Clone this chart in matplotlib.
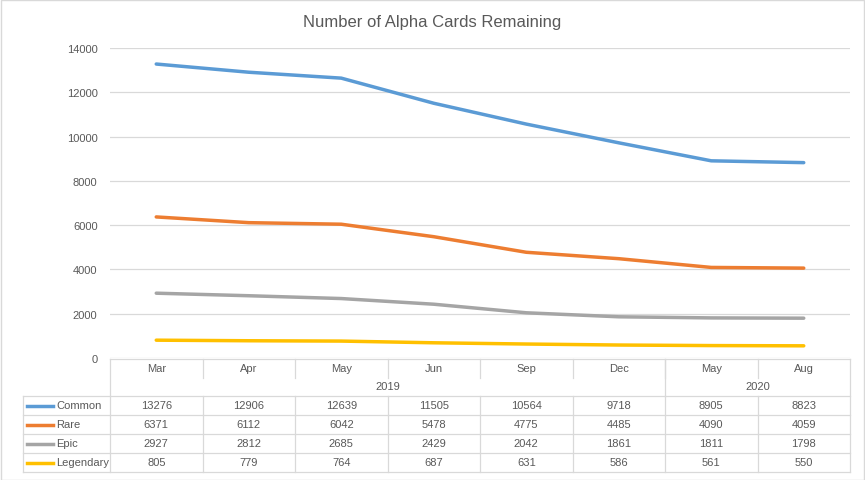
import matplotlib.pyplot as plt
from matplotlib.lines import Line2D
from matplotlib.transforms import blended_transform_factory

months = ["Mar", "Apr", "May", "Jun", "Sep", "Dec", "May", "Aug"]
years = ["2019", "2020"]
year_spans = [(0, 5), (6, 7)]
series_names = ["Common", "Rare", "Epic", "Legendary"]
common = [13276, 12906, 12639, 11505, 10564, 9718, 8905, 8823]
rare = [6371, 6112, 6042, 5478, 4775, 4485, 4090, 4059]
epic = [2927, 2812, 2685, 2429, 2042, 1861, 1811, 1798]
legendary = [805, 779, 764, 687, 631, 586, 561, 550]
colors = ["#5B9BD5", "#ED7D31", "#A5A5A5", "#FFC000"]

W, H = 865, 481
txt = "#595959"
grid = "#D9D9D9"
plt.rcParams['font.family'] = ['Liberation Sans', 'DejaVu Sans']

fig = plt.figure(figsize=(W / 100, H / 100), dpi=100)
fig.patch.set_facecolor("white")
fig.add_artist(plt.Rectangle((0.5 / W, 0.5 / H), 1 - 1.5 / W, 1 - 1.5 / H,
                             transform=fig.transFigure, fill=False,
                             edgecolor="#D9D9D9", lw=1))

ax = fig.add_axes([110 / W, 1 - 359 / H, 740 / W, 310 / H])
x = range(len(months))
for name, vals, c in zip(series_names, [common, rare, epic, legendary], colors):
    ax.plot(x, vals, color=c, lw=2.5, solid_capstyle="round", zorder=3)

ax.set_xlim(-0.5, len(months) - 0.5)
ax.set_ylim(0, 14000)
ax.set_yticks(range(0, 14001, 2000))
ax.set_xticks([])
ax.tick_params(axis="y", length=0, labelsize=8, labelcolor=txt, pad=9)
ax.grid(axis="y", color=grid, lw=0.9)
ax.set_axisbelow(True)
for s in ax.spines.values():
    s.set_visible(False)

fig.text(0.5, 1 - 22 / H, "Number of Alpha Cards Remaining", ha="center",
         va="center", fontsize=12, color=txt)

# data table under the axis
tr = blended_transform_factory(ax.transData, fig.transFigure)
ftr = fig.transFigure


def py(p):
    return 1 - p / H


def hline(x0, x1, y, t=tr):
    fig.add_artist(Line2D([x0, x1], [py(y), py(y)], transform=t, color=grid, lw=0.9))


def vline(xv, y0, y1, t=tr):
    fig.add_artist(Line2D([xv, xv], [py(y0), py(y1)], transform=t, color=grid, lw=0.9))


n = len(months)
hline(-0.5, n - 0.5, 360)
rows_y = [397, 416, 435, 454, 473]
for ry in rows_y:
    fig.add_artist(Line2D([23 / W, 850 / W], [py(ry), py(ry)], transform=ftr, color=grid, lw=0.9))
vline(23 / W, 397, 473, t=ftr)
vline(-0.5, 360, 473)
vline(n - 0.5, 360, 473)
for i in range(1, n):
    vline(i - 0.5, 360, 379)
    vline(i - 0.5, 397, 473)
for a, b in year_spans[1:]:
    vline(a - 0.5, 360, 397)

for i, m in enumerate(months):
    fig.text(i, py(369.5), m, transform=tr, ha="center", va="center", fontsize=8, color=txt)
for yr, (a, b) in zip(years, year_spans):
    fig.text((a + b) / 2, py(387), yr, transform=tr, ha="center", va="center", fontsize=8, color=txt)

for r, (name, vals, c) in enumerate(zip(series_names, [common, rare, epic, legendary], colors)):
    yc = (rows_y[r] + rows_y[r + 1]) / 2
    fig.add_artist(Line2D([27 / W, 53 / W], [py(yc), py(yc)], transform=ftr, color=c, lw=2.5))
    fig.text(56 / W, py(yc), name, transform=ftr, ha="left", va="center", fontsize=8, color=txt)
    for i, v in enumerate(vals):
        fig.text(i, py(yc), str(v), transform=tr, ha="center", va="center", fontsize=8, color=txt)

fig.savefig("out.png", dpi=100, facecolor="white")
